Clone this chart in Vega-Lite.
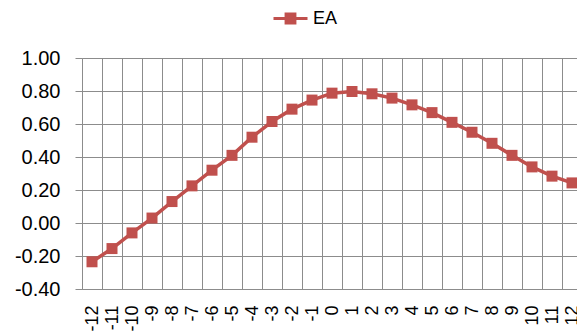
{
  "$schema": "https://vega.github.io/schema/vega-lite/v6.json",
  "autosize": "none",
  "padding": {"left": 82, "top": 58, "right": 0, "bottom": 46},
  "width": 495,
  "height": 231,
  "background": "white",
  "data": {
    "values": [
      {"lag": -12, "value": -0.235, "series": "EA"},
      {"lag": -11, "value": -0.155, "series": "EA"},
      {"lag": -10, "value": -0.06, "series": "EA"},
      {"lag": -9, "value": 0.03, "series": "EA"},
      {"lag": -8, "value": 0.13, "series": "EA"},
      {"lag": -7, "value": 0.225, "series": "EA"},
      {"lag": -6, "value": 0.32, "series": "EA"},
      {"lag": -5, "value": 0.41, "series": "EA"},
      {"lag": -4, "value": 0.52, "series": "EA"},
      {"lag": -3, "value": 0.615, "series": "EA"},
      {"lag": -2, "value": 0.69, "series": "EA"},
      {"lag": -1, "value": 0.745, "series": "EA"},
      {"lag": 0, "value": 0.787, "series": "EA"},
      {"lag": 1, "value": 0.797, "series": "EA"},
      {"lag": 2, "value": 0.783, "series": "EA"},
      {"lag": 3, "value": 0.757, "series": "EA"},
      {"lag": 4, "value": 0.716, "series": "EA"},
      {"lag": 5, "value": 0.669, "series": "EA"},
      {"lag": 6, "value": 0.61, "series": "EA"},
      {"lag": 7, "value": 0.55, "series": "EA"},
      {"lag": 8, "value": 0.483, "series": "EA"},
      {"lag": 9, "value": 0.41, "series": "EA"},
      {"lag": 10, "value": 0.34, "series": "EA"},
      {"lag": 11, "value": 0.284, "series": "EA"},
      {"lag": 12, "value": 0.243, "series": "EA"}
    ]
  },
  "mark": {
    "type": "line",
    "strokeWidth": 3.5,
    "clip": false,
    "point": {"filled": true, "shape": "square", "size": 121, "opacity": 1}
  },
  "encoding": {
    "x": {
      "field": "lag",
      "type": "quantitative",
      "scale": {"domain": [-12.5, 12.25], "nice": false, "zero": false},
      "axis": {
        "title": null,
        "values": [-12.5, -11.5, -10.5, -9.5, -8.5, -7.5, -6.5, -5.5, -4.5, -3.5, -2.5, -1.5, -0.5, 0.5, 1.5, 2.5, 3.5, 4.5, 5.5, 6.5, 7.5, 8.5, 9.5, 10.5, 11.5],
        "labelExpr": "'' + (datum.value + 0.5)",
        "labelOffset": 10,
        "labelAngle": 270,
        "labelAlign": "right",
        "labelBaseline": "middle",
        "labelPadding": 16,
        "labelOverlap": false,
        "labelFlush": false,
        "labelBound": false,
        "labelFont": "Liberation Sans",
        "labelFontSize": 18,
        "labelColor": "#000000",
        "ticks": false,
        "grid": true,
        "gridColor": "#8c8c8c",
        "gridWidth": 1,
        "domain": true,
        "domainColor": "#8c8c8c",
        "domainWidth": 1
      }
    },
    "y": {
      "field": "value",
      "type": "quantitative",
      "scale": {"domain": [-0.4, 1.0], "nice": false, "zero": false},
      "axis": {
        "title": null,
        "values": [-0.4, -0.2, 0, 0.2, 0.4, 0.6, 0.8, 1.0],
        "labelExpr": "replace(format(datum.value, '.2f'), '\u2212', '-')",
        "labelFont": "Liberation Sans",
        "labelFontSize": 20,
        "labelColor": "#000000",
        "labelPadding": 15,
        "ticks": true,
        "tickSize": 7,
        "tickColor": "#8c8c8c",
        "grid": true,
        "gridColor": "#8c8c8c",
        "gridWidth": 1,
        "domain": true,
        "domainColor": "#8c8c8c",
        "domainWidth": 1
      }
    },
    "color": {
      "field": "series",
      "type": "nominal",
      "scale": {"range": ["#C0504D"]},
      "legend": {
        "title": null,
        "orient": "none",
        "legendX": 190,
        "legendY": -58,
        "symbolType": "M-1,0H1M-0.26,-0.26H0.26V0.26H-0.26Z",
        "symbolSize": 1156,
        "symbolStrokeWidth": 3,
        "labelFont": "Liberation Sans",
        "labelFontSize": 18,
        "labelColor": "#000000",
        "labelOffset": 4,
        "encode": {
          "symbols": {
            "update": {
              "fill": {"value": "#C0504D"},
              "stroke": {"value": "#C0504D"},
              "opacity": {"value": 1}
            }
          }
        }
      }
    }
  },
  "config": {
    "view": {"stroke": null}
  }
}
